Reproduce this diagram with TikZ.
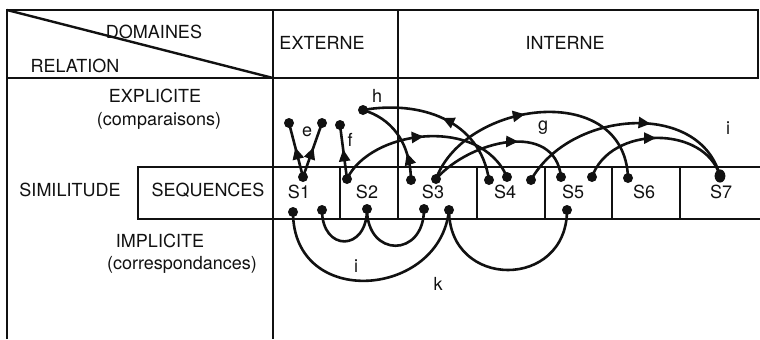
\documentclass[tikz,border=0pt]{standalone}
\usepackage{fontspec}
\setmainfont{TeX Gyre Heros}
\usetikzlibrary{arrows.meta}
\usetikzlibrary{decorations.markings}
\usetikzlibrary{positioning}
\definecolor{inkblack}{RGB}{17,17,17}

\tikzset{
  tabline/.style={inkblack,line width=0.7pt},
  seqlink/.style={inkblack,line width=1.3pt},
  seqflow/.style={seqlink,postaction={decorate,decoration={markings,
      mark=at position #1 with {\arrow{Triangle[length=6pt,width=5.5pt]}}}}},
  txt/.style={font=\fontsize{9}{10}\selectfont,text=inkblack,inner sep=0pt},
}

\begin{document}
\begin{tikzpicture}[x=0.5pt,y=-0.5pt]
    \useasboundingbox (0,0) rectangle (760,339);
    % table
    \draw[tabline] (7,339) -- (7,10) -- (758,10) -- (758,78) -- (7,78);
    \draw[tabline] (273,10) -- (273,339);
    \draw[tabline] (398,10) -- (398,219);
    \draw[inkblack,line width=1.2pt] (7,10) -- (273,78);
    % row of sequences
    \draw[tabline] (760,167) -- (138,167) -- (138,219) -- (760,219);
    \foreach \x in {340,477,545,612,680}{
      \draw[tabline] (\x,167) -- (\x,219);}
    % headings
    \node[txt] (domaines) at (154,32) {DOMAINES};
    \node[txt] (relation) at (75,66) {RELATION};
    \node[txt] (externe) at (322,43) {EXTERNE};
    \node[txt] (interne) at (565,43) {INTERNE};
    \node[txt] (explicite) at (155,96) {EXPLICITE};
    \node[txt] (comparaisons) at (159,121) {(comparaisons)};
    \node[txt] (similitude) at (70,190) {SIMILITUDE};
    \node[txt] (sequences) at (208,190) {SEQUENCES};
    \node[txt] (implicite) at (160,241) {IMPLICITE};
    \node[txt] (correspondances) at (182,265) {(correspondances)};
    \foreach \n/\x in {1/299, 2/367, 3/433, 4/505, 5/573, 6/644, 7/721}{
      \node[txt] (s\n) at (\x,192) {S\n};}
    % dots
    \foreach \c/\x/\y in {s1u/303/177, s2u/347/179, s3ua/411/180, s3ub/436/179,
        s4ua/489/180, s4ub/507/177, s4uc/531/180, s5ua/561/177, s5ub/592/177,
        s6u/628/178, e1/289/123, e2/322/123, f1/340/125, h1/363/110,
        s1la/293/212, s1lb/322/210, s2l/367/209, s3la/424/209, s3lb/449/210,
        s5l/567/210}{
      \coordinate (\c) at (\x,\y);
      \fill[inkblack] (\c) circle (2.5pt);}
    \coordinate (s7u) at (720,176);
    \fill[inkblack] (s7u) ellipse (2.7pt and 3.3pt);
    % explicit relations
    \draw[seqflow=0.55] (s1u) -- (e1);
    \draw[seqflow=0.55] (s1u) -- (e2);
    \draw[seqflow=0.55] (s2u) -- (f1);
    \draw[seqflow=0.3] (s3ua) .. controls (410,140) and (390,118) .. (h1);
    \draw[seqflow=0.5] (s4ua) .. controls (480,120) and (420,100) .. (h1);
    \draw[seqflow=0.48] (s2u) .. controls (370,130) and (480,115) .. (s4ub);
    \draw[seqflow=0.45] (s3ub) .. controls (465,100) and (625,80) .. (s6u);
    \draw[seqflow=0.6] (s3ub) .. controls (470,140) and (555,120) .. (s5ua);
    \draw[seqflow=0.6] (s4uc) .. controls (570,110) and (700,100) .. (s7u);
    \draw[seqflow=0.5] (s5ub) .. controls (610,125) and (705,125) .. (s7u);
    \node[txt] (le) at (307,132) {e};
    \node[txt] (lf) at (350,140) {f};
    \node[txt] (lh) at (377,96) {h};
    \node[txt] (lg) at (543,128) {g};
    \node[txt] (li) at (728,128) {i};
    % implicit relations
    \draw[seqlink] (s1lb) .. controls (322,252) and (367,252) .. (s2l);
    \draw[seqlink] (s2l) .. controls (367,258) and (424,258) .. (s3la);
    \draw[seqlink] (s1la) .. controls (293,310) and (440,298) .. (s3lb);
    \draw[seqlink] (s3lb) .. controls (449,290) and (567,290) .. (s5l);
    \node[txt] (lj) at (356,266) {i};
    \node[txt] (lk) at (438,284) {k};
\end{tikzpicture}
\end{document}
